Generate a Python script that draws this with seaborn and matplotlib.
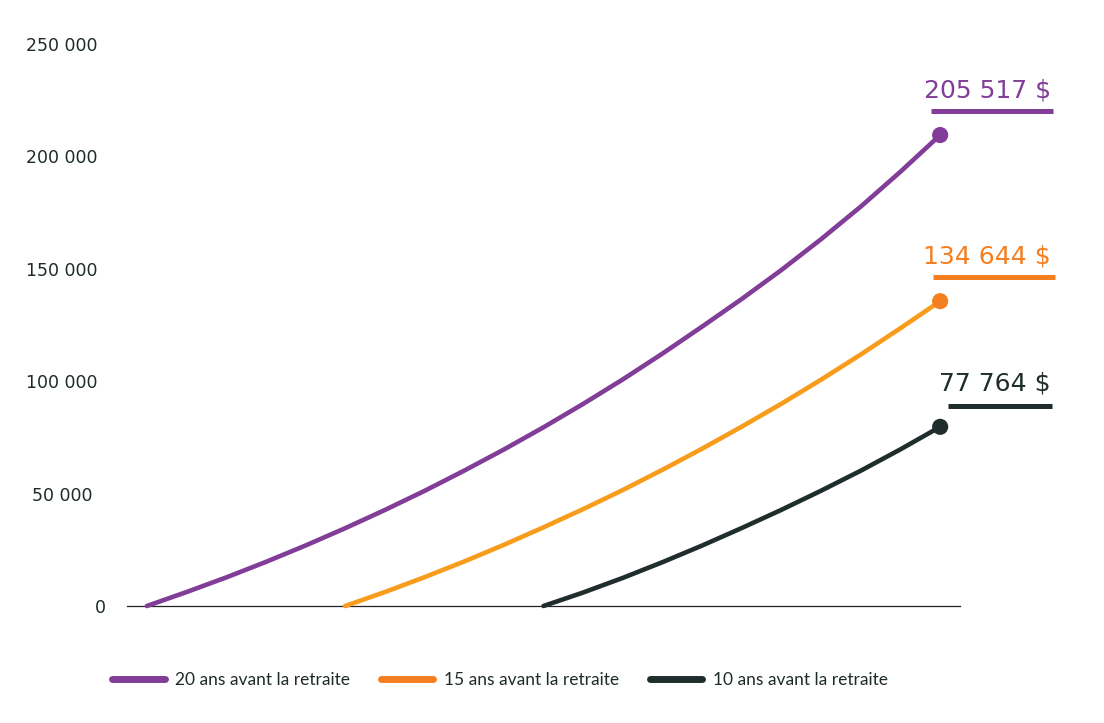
import matplotlib
matplotlib.use("Agg")
import matplotlib.pyplot as plt
import matplotlib.transforms as mtrans
from matplotlib.lines import Line2D
import numpy as np
import pandas as pd
import seaborn as sns

# ---- data ----
years_20 = list(range(0, 21))
values_20 = [0, 6200, 12700, 19600, 26900, 34600, 42700, 51200, 60200, 69600, 79500,
             89900, 100800, 112300, 124300, 136600, 149500, 163200, 177700, 193200, 209500]
years_15 = list(range(5, 21))
values_15 = [0, 6200, 12800, 19800, 27200, 35000, 43100, 51600, 60600, 70000, 79800,
             90000, 100700, 111900, 123600, 135600]
years_10 = list(range(10, 21))
values_10 = [0, 6000, 12500, 19500, 26900, 34700, 42800, 51300, 60200, 69700, 79700]

series_labels = ["20 ans avant la retraite", "15 ans avant la retraite", "10 ans avant la retraite"]
end_labels = ["205 517 $", "134 644 $", "77 764 $"]
ytick_values = [0, 50000, 100000, 150000, 200000, 250000]
ytick_labels = ["0", "50 000", "100 000", "150 000", "200 000", "250 000"]

# ---- styles ----
line_colors = ["#813D97", "#F89C1C", "#1F2E2C"]
accent_colors = ["#813D97", "#F47F20", "#1F2E2C"]
text_dark = "#1E2B2A"

sns.set_theme(style="white")
plt.rcParams["font.family"] = ["DejaVu Sans"]

df = pd.concat([
    pd.DataFrame({"annee": years_20, "valeur": values_20, "serie": series_labels[0]}),
    pd.DataFrame({"annee": years_15, "valeur": values_15, "serie": series_labels[1]}),
    pd.DataFrame({"annee": years_10, "valeur": values_10, "serie": series_labels[2]}),
], ignore_index=True)
ends = df.groupby("serie", sort=False).tail(1).reset_index(drop=True)

W, H = 1104, 723
fig = plt.figure(figsize=(W / 100, H / 100), dpi=100)
ax = fig.add_axes([127 / W, 1 - 606 / H, (960 - 127) / W, (606 - 44) / H])

sns.lineplot(data=df, x="annee", y="valeur", hue="serie", hue_order=series_labels,
             palette=line_colors, linewidth=3.3, legend=False, ax=ax,
             solid_capstyle="round", solid_joinstyle="round", clip_on=False, zorder=3)
sns.scatterplot(data=ends, x="annee", y="valeur", hue="serie", hue_order=series_labels,
                palette=accent_colors, s=135, linewidth=0, legend=False, ax=ax,
                clip_on=False, zorder=5)

ax.set_xlim(-0.5, 20.5)
ax.set_ylim(0, 250000)
ax.set_xticks([])
ax.set_xlabel("")
ax.set_ylabel("")
ax.set_yticks(ytick_values)
ax.set_yticklabels(ytick_labels)
ax.tick_params(axis="y", length=0, pad=65 * 0.72, labelsize=12.5, labelcolor=text_dark)
for lbl in ax.get_yticklabels():
    lbl.set_ha("center")
    if lbl.get_text() == "0":
        lbl.set_x((100 - 62) / (960 - 127))

for side in ["left", "top", "right"]:
    ax.spines[side].set_visible(False)
ax.spines["bottom"].set_color("#222222")
ax.spines["bottom"].set_linewidth(0.9)

# ---- end value labels with underline bars (pixel offsets from end points) ----
text_offsets = [(47, 45), (47, 45), (55, 43)]
bar_offsets = [(-9, 113, 24), (-7, 115, 24), (8, 112, 21)]
for i, row in ends.iterrows():
    x_end, y_end = row["annee"], row["valeur"]
    dx, dy = text_offsets[i]
    ax.annotate(end_labels[i], xy=(x_end, y_end), xytext=(dx * 0.72, dy * 0.72),
                textcoords="offset points", ha="center", va="center",
                fontsize=18, color=accent_colors[i], annotation_clip=False)
    x0, x1, by = bar_offsets[i]
    tr = mtrans.IdentityTransform() + mtrans.ScaledTranslation(x_end, y_end, ax.transData)
    ax.add_line(Line2D([x0, x1], [by, by], transform=tr, color=accent_colors[i],
                       linewidth=3.6, solid_capstyle="butt", clip_on=False))

# ---- legend ----
handles = [Line2D([], [], color=c, linewidth=5, solid_capstyle="round") for c in accent_colors]
fig.legend(handles, series_labels, loc="center", bbox_to_anchor=(500 / W, 1 - 680 / H),
           ncol=3, frameon=False, handlelength=3.0, handletextpad=0.6, columnspacing=1.8,
           prop={"family": "Lato", "size": 12.5}, labelcolor=text_dark)

fig.savefig("out.png", dpi=100, facecolor="white")
